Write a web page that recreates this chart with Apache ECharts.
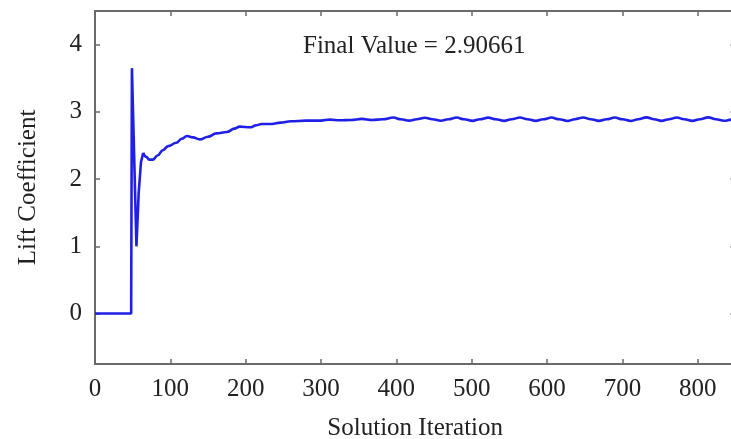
<!DOCTYPE html>
<html>
<head>
<meta charset="utf-8">
<script src="https://cdn.jsdelivr.net/npm/echarts@6/dist/echarts.min.js"></script>
<style>html,body{margin:0;padding:0;background:#fff}#c{width:731px;height:439px}</style>
</head>
<body>
<div id="c"></div>
<script>
// Iteration numbers and lift coefficient values
const iterations = [0,48,49,55,58,61,64,68,72,77,83,90,97,108,115,122,130,139,150,161,175,185,192,206,214,221,235,246,260,280,300,312,325,340,354,368,382,
  396,406,417,427,438,448,459,469,480,490,501,511,522,532,543,553,564,574,585,595,606,616,627,637,648,658,669,679,690,700,711,721,732,742,752,762,772,782,793,803,814,824,835,845,850];
const liftValues = [0,0,3.65,1.0,1.8,2.25,2.39,2.33,2.29,2.29,2.35,2.43,2.49,2.54,2.6,2.64,2.62,2.59,2.63,2.68,2.70,2.75,2.78,2.77,2.80,2.82,2.82,2.84,2.86,2.87,2.87,2.885,2.875,2.88,2.895,2.88,2.89,
  2.915,2.89,2.87,2.89,2.912,2.89,2.868,2.89,2.915,2.89,2.866,2.89,2.914,2.89,2.866,2.89,2.916,2.89,2.866,2.89,2.915,2.89,2.865,2.89,2.917,2.89,2.866,2.89,2.915,2.89,2.865,2.89,2.918,2.89,2.866,2.89,2.916,2.89,2.866,2.89,2.918,2.89,2.868,2.885,2.89];
const xTicks = [0,100,200,300,400,500,600,700,800];
const yTicks = [0,1,2,3,4];
const annotation = 'Final Value = 2.90661';

const serif = '"Liberation Serif", "DejaVu Serif", serif';
const axisColor = '#6a6a6a';
const textColor = '#222';
const fs = 25;
const points = iterations.map((x, i) => [x, liftValues[i]]);
const splitAt = 6; // transient part drawn with straight segments, the rest smoothed
const transient = points.slice(0, splitAt + 1);
const settled = points.slice(splitAt);

const chart = echarts.init(document.getElementById('c'), null, {renderer: 'canvas'});
const xFmt = v => xTicks.includes(v) ? String(v) : '';
const yFmt = v => yTicks.includes(v) ? String(v) : '';
const tick = {show: true, inside: true, length: 5, lineStyle: {color: axisColor, width: 1.5}};
const line = {show: true, onZero: false, lineStyle: {color: axisColor, width: 2}};
const lineStyle = {color: '#1f1fe6', width: 2.6};
chart.setOption({
  animation: false,
  backgroundColor: '#fff',
  grid: {left: 95, top: 11, right: -4.4, bottom: 75, containLabel: false, outerBoundsMode: 'none'},
  xAxis: [{
    type: 'value', min: 0, max: 850, interval: 100, position: 'bottom',
    name: 'Solution Iteration', nameLocation: 'middle', nameGap: 52,
    nameTextStyle: {fontFamily: serif, fontSize: fs, color: textColor},
    axisLine: line, axisTick: tick,
    axisLabel: {fontFamily: serif, fontSize: fs, color: textColor, margin: 13, formatter: xFmt},
    splitLine: {show: false}
  }, {
    type: 'value', min: 0, max: 850, interval: 100, position: 'top',
    axisLine: line, axisTick: tick,
    axisLabel: {show: false}, splitLine: {show: false}
  }],
  yAxis: [{
    type: 'value', min: -0.75, max: 4.5, position: 'left',
    name: 'Lift Coefficient', nameLocation: 'middle', nameGap: 54,
    nameTextStyle: {fontFamily: serif, fontSize: fs, color: textColor},
    axisLine: line, axisTick: tick,
    axisLabel: {fontFamily: serif, fontSize: fs, color: textColor, margin: 13, formatter: yFmt, showMinLabel: false, showMaxLabel: false},
    splitLine: {show: false}
  }, {
    type: 'value', min: -0.75, max: 4.5, position: 'right',
    axisLine: line, axisTick: tick,
    axisLabel: {show: false}, splitLine: {show: false}
  }],
  graphic: [{
    type: 'text', left: 303, top: 34,
    style: {text: annotation, fontFamily: serif, fontSize: fs, fill: textColor}
  }],
  series: [{
    type: 'line', data: transient, xAxisIndex: 0, yAxisIndex: 0,
    showSymbol: false, smooth: false, lineStyle: lineStyle
  }, {
    type: 'line', data: settled, xAxisIndex: 0, yAxisIndex: 0,
    showSymbol: false, smooth: 0.4, smoothMonotone: 'x', lineStyle: lineStyle
  }]
});
</script>
</body>
</html>
